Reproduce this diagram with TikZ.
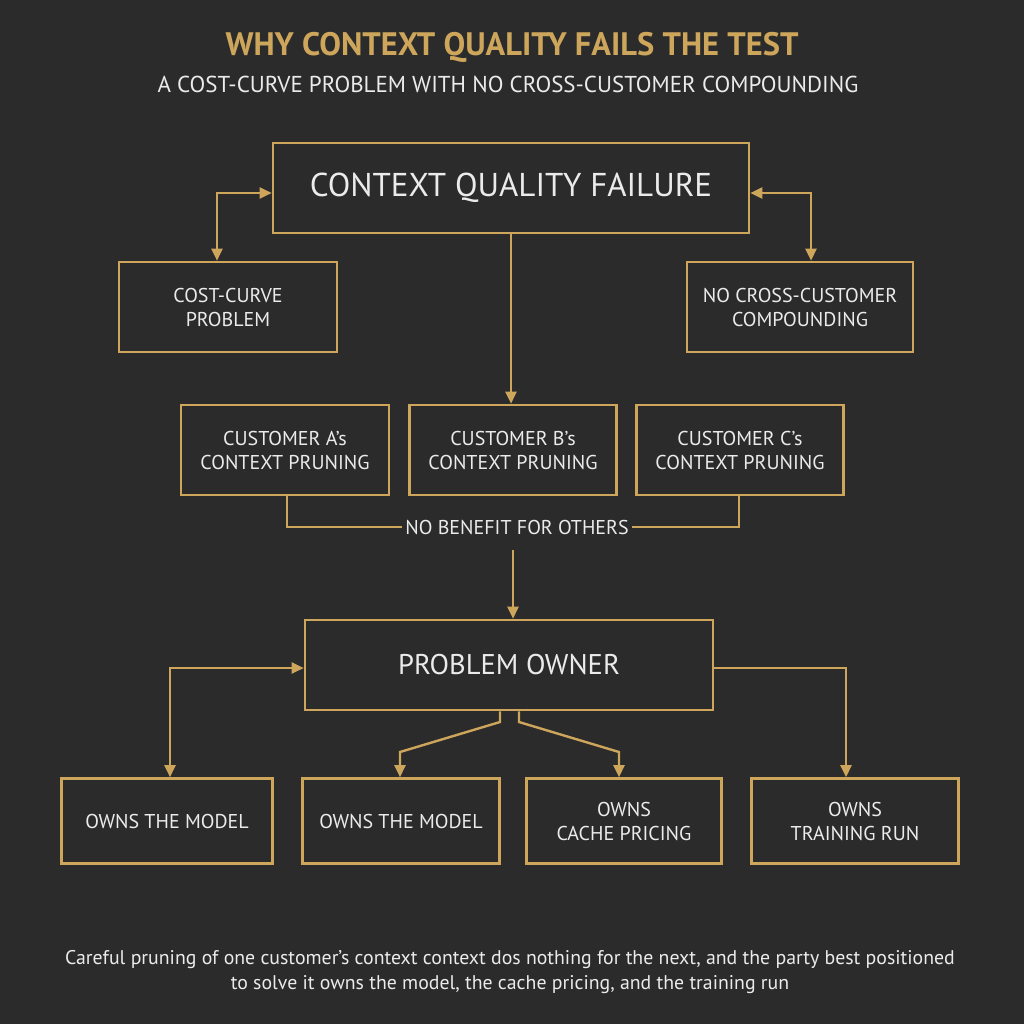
\documentclass[tikz,border=0pt]{standalone}
\usepackage{fontspec}
\setmainfont{PT Sans}
\usetikzlibrary{arrows.meta}
\definecolor{gold}{RGB}{205,166,92}
\definecolor{bg}{RGB}{43,43,43}
\begin{document}
\begin{tikzpicture}[x=1pt,y=-1pt,
  box/.style={draw=gold,line width=2.6pt,fill=bg,text=white!92!black,align=center,inner sep=0pt},
  con/.style={draw=gold,line width=2.4pt},
  arr/.style={con,-{Triangle[width=11pt,length=12pt]}},
  barr/.style={con,{Triangle[width=11pt,length=12pt]}-{Triangle[width=11pt,length=12pt]}},
  lbl/.style={font=\fontsize{20}{24}\selectfont}]
\fill[bg] (0,0) rectangle (1024,1024);
\useasboundingbox (0,0) rectangle (1024,1024);
\node[text=gold,font=\bfseries\fontsize{32.5}{36}\selectfont] (t) at (512,47) {WHY CONTEXT QUALITY FAILS THE TEST};
\node[text=white!92!black,font=\fontsize{23}{26}\selectfont] (st) at (508,84) {A COST-CURVE PROBLEM WITH NO CROSS-CUSTOMER COMPOUNDING};
\node[box,minimum width=476pt,minimum height=90pt,font=\fontsize{33}{38}\selectfont] (cq) at (511,188) {CONTEXT QUALITY FAILURE};
\node[box,lbl,minimum width=218pt,minimum height=90pt] (cc) at (228,307) {COST-CURVE\\PROBLEM};
\node[box,lbl,minimum width=226pt,minimum height=90pt] (nc) at (800,307) {NO CROSS-CUSTOMER\\COMPOUNDING};
\node[box,lbl,minimum width=208pt,minimum height=90pt] (ca) at (285,450) {CUSTOMER A's\\CONTEXT PRUNING};
\node[box,lbl,minimum width=207pt,minimum height=90pt] (cb) at (513,450) {CUSTOMER B's\\CONTEXT PRUNING};
\node[box,lbl,minimum width=207pt,minimum height=90pt] (cc2) at (740,450) {CUSTOMER C's\\CONTEXT PRUNING};
\node[lbl,text=white!92!black] (nb) at (517,527) {NO BENEFIT FOR OTHERS};
\node[box,minimum width=408pt,minimum height=90pt,font=\fontsize{28.5}{32}\selectfont] (po) at (509,665) {PROBLEM OWNER};
\node[box,lbl,minimum width=211pt,minimum height=85pt] (b1) at (167,821) {OWNS THE MODEL};
\node[box,lbl,minimum width=197pt,minimum height=85pt] (b2) at (401,821) {OWNS THE MODEL};
\node[box,lbl,minimum width=195pt,minimum height=85pt] (b3) at (624,821) {OWNS\\CACHE PRICING};
\node[box,lbl,minimum width=207pt,minimum height=85pt] (b4) at (855,821) {OWNS\\TRAINING RUN};
\node[text=white!92!black,font=\fontsize{19.8}{25}\selectfont,align=center] (cap) at (510,972) {Careful pruning of one customer's context context dos nothing for the next, and the party best positioned\\to solve it owns the model, the cache pricing, and the training run};
% connectors
\draw[barr] (cc.north -| 217,0) |- (cq.west |- 0,193);
\draw[barr] (nc.north -| 811,0) |- (cq.east |- 0,193);
\draw[arr] (cq.south) -- (cq.south |- cb.north);
\draw[con] (ca.south -| 287,0) |- (nb.west);
\draw[con] (cc2.south -| 739,0) |- (nb.east);
\coordinate (nbs) at (513,550);
\draw[arr] (nbs) -- (po.north -| nbs);
\draw[barr] (b1.north -| 170,0) |- (po.west |- 0,668);
\draw[arr] (po.east |- 0,668) -| (b4.north -| 846,0);
\draw[arr] (po.south -| 500,0) -- (500,722) -- (400,752) -- (b2.north -| 400,0);
\draw[arr] (po.south -| 519,0) -- (519,722) -- (619,752) -- (b3.north -| 619,0);
\end{tikzpicture}
\end{document}
